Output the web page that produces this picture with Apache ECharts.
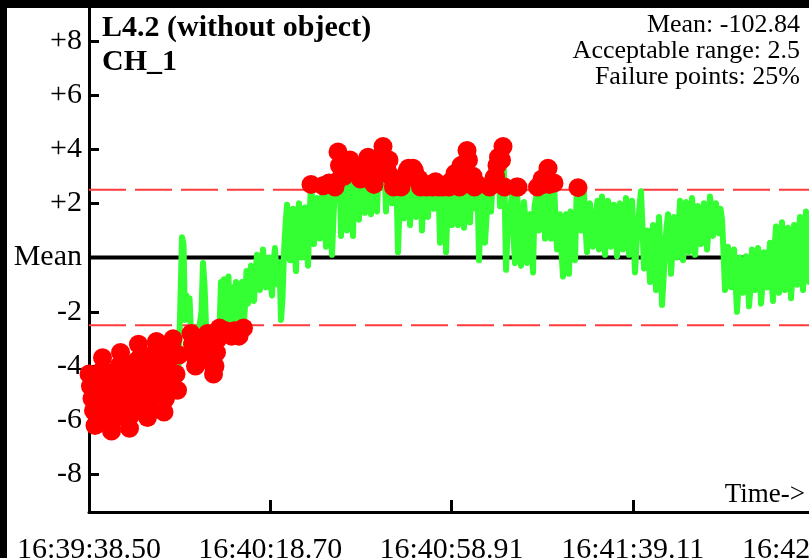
<!DOCTYPE html>
<html>
<head>
<meta charset="utf-8">
<script src="https://cdn.jsdelivr.net/npm/echarts@6/dist/echarts.min.js"></script>
<style>
html,body{margin:0;padding:0;background:#fff;}
#chart{width:809px;height:558px;}
</style>
</head>
<body>
<div id="chart"></div>
<script>
// ---- data ----
const titleLines = ['L4.2 (without object)', 'CH_1'];
const infoLines = ['Mean: -102.84', 'Acceptable range: 2.5', 'Failure points: 25%'];
const axisCaption = 'Time->';
const xTickLabels = ['16:39:38.50', '16:40:18.70', '16:40:58.91', '16:41:39.11', '16:42:19.31'];
const xTickStep = 40.2025;          // seconds between time ticks
const sampleStep = 0.33272;         // seconds between samples
const yTickValues = [-8, -6, -4, -2, 0, 2, 4, 6, 8];
const yTickLabels = ['-8', '-6', '-4', '-2', 'Mean', '+2', '+4', '+6', '+8'];
const acceptableRange = 2.5;
const meanLevel = 0;
// deviation from mean, one value per sample
const deviation = [
  // 16:39:38 .. 16:39:58
  -4.3, -4.75, -5.2, -5.65, -6.2, -5.8, -5.3, -4.8, -4.2, -3.7,
  -4.2, -4.7, -5.2, -5.7, -6.1, -6.4, -6.0, -5.5, -5.0, -4.5, -4.0, -3.5,
  -3.9, -4.4, -4.9, -5.4, -5.9, -6.3, -5.8, -5.3, -4.8, -4.3, -3.8, -3.2,
  -3.7, -4.2, -4.7, -5.2, -5.6, -5.9, -5.5, -5.0, -4.5, -4.0, -3.5, -3.1,
  -3.6, -4.1, -4.6, -5.1, -5.7, -5.2, -4.7, -4.2, -3.7, -3.2, -3.0,
  -3.6, -4.3, -4.9, -3.6,
  // .. 16:40:13
  -1.5, 0.75, 0.5, -2.3, -1.4, -1.9, -1.5, -2.8, -3.2, -3.6, -4.0, -3.6, -3.0, -2.4, -2.0, -0.2,
  -1.0, -2.5, -2.8, -3.1, -3.5, -3.9, -4.3, -4.0, -3.5, -3.0, -2.6, -0.9, -2.3, -0.8, -2.7, -1.9,
  -0.7, -2.4, -2.9, -1.1, -2.7, -0.9, -2.2, -2.9, -1.5, -0.9, -2.6, -1.8,
  // .. 16:40:22
  -0.5, -1.7, -1.2, -0.3, -0.9, -1.6, -0.6, 0.1, -0.8, -1.2, -0.4, 0.3, -0.5, -1.1, -0.3, 0.0,
  -0.9, -1.4, -0.2, 0.35, -0.6, -1.0, -0.2, -2.3, -1.5, 0.2,
  1.2, 1.95, 0.6, -0.1, 1.1, 1.8, 0.4, -0.5, 1.3, 2.0, 0.7, 0.0, 1.0, 1.85, 0.6, -0.3,
  1.5, 2.7, 1.9, 0.5, 1.4, 2.2, 1.2, 0.7, 1.8, 2.65, 1.6, 0.4, 1.9, 2.75,
  // .. 16:40:58
  1.2, 0.1, 1.5, 2.6, 2.8, 3.9, 3.4, 0.8, 3.3, 3.0, 3.5, 1.0, 3.2, 3.6, 3.2, 0.8,
  3.4, 3.3, 3.1, 1.4, 2.9, 3.2, 3.3, 1.65, 3.1, 3.7, 3.3, 1.6, 3.4, 2.7, 3.0, 1.7,
  3.2, 3.4, 3.8, 4.1, 3.5, 1.7, 3.2, 3.6, 3.0, 2.0, 2.6, 2.85, 2.7, 0.2, 1.9, 2.6,
  2.8, 1.45, 3.0, 3.2, 3.3, 1.2, 3.1, 3.3, 3.2, 1.5, 2.9, 2.9, 2.6, 1.0, 2.3, 2.7,
  2.6, 1.5, 2.7, 2.65, 2.6, 1.8, 2.8, 2.7, 2.6, 0.55, 1.9, 2.6, 2.5, 0.2, 1.8, 2.6,
  // .. 16:41:25
  2.8, 1.2, 2.2, 3.1, 2.7, 1.2, 2.6, 3.4, 2.8, 1.1, 3.5, 3.95, 3.6, 1.3, 2.7, 3.0,
  2.6, 1.8, 2.7, -0.1, 1.4, 2.4, 1.9, 0.55, 1.5, 2.2, 2.6, 1.7, 2.7, 2.95, 3.0, 3.4,
  3.7, 1.9, 3.6, 4.1, 2.6, -0.45, 0.9, 1.6, 1.9, 2.3, 0.8, -0.2, 2.6, 2.6, 1.2, -0.3,
  1.1, 2.05, 1.3, -0.2, 1.5, 1.6, 0.6, -0.55, 1.9, 2.2, 2.6, 1.0, 2.2, 2.9, 2.7, 0.7,
  2.9, 3.3, 2.7, 0.7, 2.2, 2.75, 1.4, 0.3, 1.1, 1.6, 0.2, -0.7, 1.3, 1.6, 0.4, -0.6,
  // .. 16:41:52
  1.7, 1.2, 0.6, -0.1, 2.2, 2.58, 2.4, 1.0, 1.8, 2.4, 1.1, 0.2, 1.4, 2.0, 1.2, 0.4,
  0.9, 1.6, 2.1, 0.3, 1.3, 2.25, 1.5, 0.1, 1.2, 2.1, 1.7, 0.4, 1.0, 1.95, 1.3, 0.05,
  1.4, 2.0, 1.8, 0.3, 0.9, 2.2, 1.6, 0.1, 1.2, 2.1, 0.8, -0.55, 0.5, 1.2, 1.9, 2.45,
  1.1, -0.4, 0.2, 1.0, 0.1, -0.9, 0.6, 1.2, -0.3, -1.2, 0.4, 1.5, 0.2, -1.75, -0.8, 0.3,
  1.1, 1.6, 0.7, -0.6, 0.3, 1.5, 1.2, 0.0, 1.0, 2.1, 1.5, -0.1, 0.6, 2.05, 1.6, 0.2,
  // .. 16:42:18
  1.2, 2.2, 1.5, 0.1, 0.9, 1.9, 1.6, 0.5, 1.1, 2.0, 1.4, 0.3, 1.0, 2.25, 1.7, 0.8,
  1.2, 2.0, 1.5, 0.9, 1.8, 1.4, 0.2, -1.2, -0.5, 0.4, -0.3, -1.1, -0.6, 0.3, -0.9, -2.0,
  -1.0, 0.0, -0.5, -1.3, -0.8, 0.05, -0.4, -1.8, -1.1, 0.3, -0.2, -1.2, -0.7, 0.35, -0.3, -1.7,
  -1.0, 0.2, -0.4, -1.1, -0.1, 0.55, -0.8, -1.6, 0.3, 1.15, -0.2, -1.3, 0.6, 1.3, 0.1, -1.2,
  -0.4, 1.1, 0.5, -1.5, -0.6, 1.2, 0.4, -1.0, 0.9, 1.5, -0.3, -1.2, 0.8, 1.7, 0.6, -0.9
];

// ---- build ----
const FONT = "'Liberation Serif','Times New Roman','DejaVu Serif',serif";
const xMax = xTickStep * (xTickLabels.length - 1);
const linePts = deviation.map((v, i) => [i * sampleStep, v]);
const failPts = linePts.filter(p => Math.abs(p[1] - meanLevel) > acceptableRange);

const chart = echarts.init(document.getElementById('chart'), null, {renderer: 'canvas'});
const option = {
  animation: false,
  backgroundColor: '#ffffff',
  grid: {left: 89, right: -5, top: 8, bottom: 46, containLabel: false, outerBoundsMode: 'none'},
  xAxis: {
    type: 'value', min: 0, max: xMax, interval: xTickStep,
    axisLine: {show: true, onZero: false, lineStyle: {color: '#000', width: 3}},
    axisTick: {show: true, inside: true, length: 12, lineStyle: {color: '#000', width: 3}},
    axisLabel: {
      show: true, showMinLabel: true, showMaxLabel: true, margin: 23, hideOverlap: false,
      fontSize: 30, fontFamily: FONT, color: '#000',
      formatter: v => xTickLabels[Math.round(v / xTickStep)] || ''
    },
    splitLine: {show: false}
  },
  yAxis: {
    type: 'value', min: -9.39, max: 9.21,
    axisLine: {show: true, onZero: false, lineStyle: {color: '#000', width: 3}},
    axisTick: {show: true, inside: true, length: 10, customValues: yTickValues, lineStyle: {color: '#000', width: 3}},
    axisLabel: {
      show: true, margin: 7, fontSize: 30, fontFamily: FONT, color: '#000',
      customValues: yTickValues,
      formatter: v => { const k = yTickValues.indexOf(Math.round(v)); return k >= 0 ? yTickLabels[k] : ''; }
    },
    splitLine: {show: false}
  },
  series: [
    {
      type: 'line', name: 'upper', data: [[0, meanLevel + acceptableRange], [xMax, meanLevel + acceptableRange]],
      showSymbol: false, silent: true, z: 1,
      lineStyle: {color: '#ff3b3b', width: 2, type: [37, 9]}
    },
    {
      type: 'line', name: 'lower', data: [[0, meanLevel - acceptableRange], [xMax, meanLevel - acceptableRange]],
      showSymbol: false, silent: true, z: 1,
      lineStyle: {color: '#ff3b3b', width: 2, type: [37, 9]}
    },
    {
      type: 'line', name: 'mean', data: [[0, meanLevel], [xMax, meanLevel]],
      showSymbol: false, silent: true, z: 1,
      lineStyle: {color: '#000', width: 4}
    },
    {
      type: 'line', name: 'signal', data: linePts, showSymbol: false, symbol: 'none', sampling: null,
      z: 2, lineStyle: {color: '#33ff33', width: 6, join: 'round', cap: 'round'}
    },
    {
      type: 'scatter', name: 'fail', data: failPts, symbol: 'circle', symbolSize: 19, z: 3,
      itemStyle: {color: '#ff0000', opacity: 1}
    }
  ],
  graphic: [
    {type: 'rect', left: 0, top: 0, z: 100, shape: {width: 809, height: 8}, style: {fill: '#000'}},
    {type: 'rect', left: 0, top: 0, z: 100, shape: {width: 7, height: 558}, style: {fill: '#000'}},
    {type: 'text', x: 102, y: 28, z: 100, style: {text: titleLines[0], font: "bold 30px " + FONT, fill: '#000', textAlign: 'left', textVerticalAlign: 'middle'}},
    {type: 'text', x: 102, y: 62, z: 100, style: {text: titleLines[1], font: "bold 30px " + FONT, fill: '#000', textAlign: 'left', textVerticalAlign: 'middle'}},
    {type: 'text', x: 800, y: 25, z: 100, style: {text: infoLines[0], font: "26px " + FONT, fill: '#000', textAlign: 'right', textVerticalAlign: 'middle'}},
    {type: 'text', x: 800, y: 51, z: 100, style: {text: infoLines[1], font: "26px " + FONT, fill: '#000', textAlign: 'right', textVerticalAlign: 'middle'}},
    {type: 'text', x: 800, y: 77, z: 100, style: {text: infoLines[2], font: "26px " + FONT, fill: '#000', textAlign: 'right', textVerticalAlign: 'middle'}},
    {type: 'text', x: 805, y: 495, z: 100, style: {text: axisCaption, font: "27px " + FONT, fill: '#000', textAlign: 'right', textVerticalAlign: 'middle'}}
  ]
};
chart.setOption(option);
</script>
</body>
</html>
